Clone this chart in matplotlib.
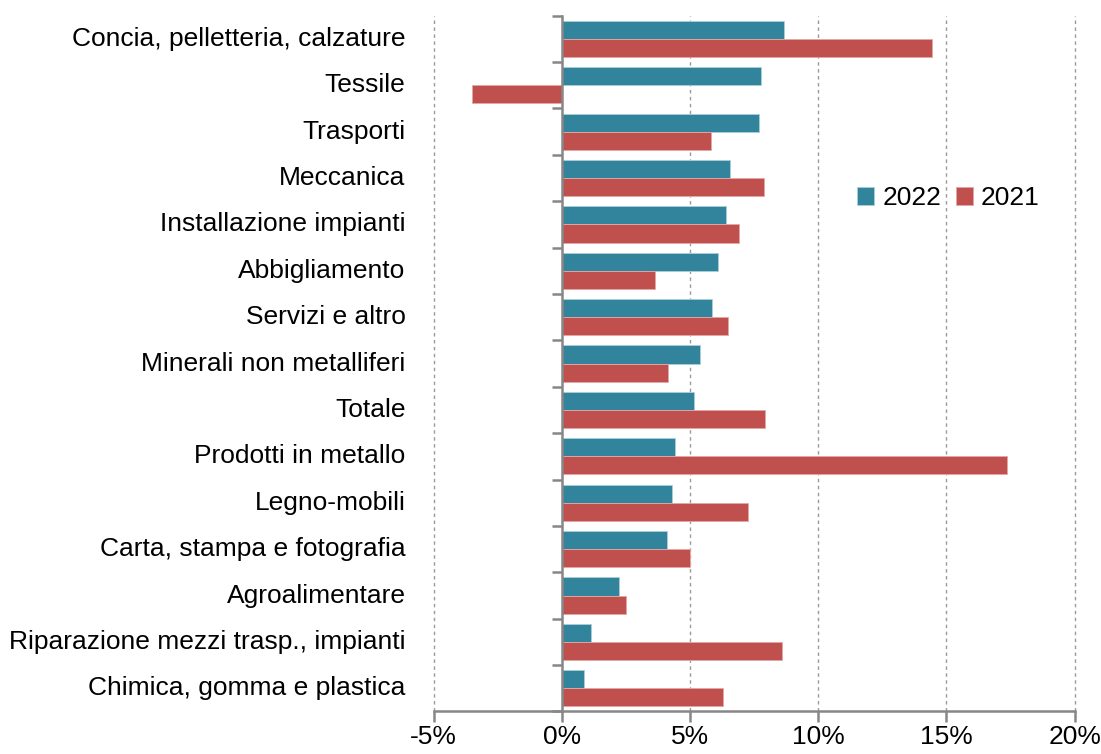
import matplotlib
matplotlib.use("Agg")
import matplotlib.pyplot as plt
import matplotlib.transforms as mtransforms
import numpy as np

settori = [
    "Concia, pelletteria, calzature",
    "Tessile",
    "Trasporti",
    "Meccanica",
    "Installazione impianti",
    "Abbigliamento",
    "Servizi e altro",
    "Minerali non metalliferi",
    "Totale",
    "Prodotti in metallo",
    "Legno-mobili",
    "Carta, stampa e fotografia",
    "Agroalimentare",
    "Riparazione mezzi trasp., impianti",
    "Chimica, gomma e plastica",
]
var_2022 = [8.65, 7.75, 7.67, 6.55, 6.41, 6.08, 5.87, 5.39, 5.17, 4.42, 4.28, 4.10, 2.24, 1.12, 0.87]
var_2021 = [14.43, -3.5, 5.80, 7.88, 6.89, 3.62, 6.47, 4.13, 7.93, 17.38, 7.27, 4.98, 2.48, 8.58, 6.28]

plt.rcParams["font.family"] = ["Liberation Sans Narrow", "Liberation Sans", "DejaVu Sans"]
FS = 19
GRIGIO = "#878787"

fig = plt.figure(figsize=(11.01, 7.54), dpi=100)
ax = fig.add_axes([0.394, 0.0564, 0.582, 0.9228])

n = len(settori)
y = np.arange(n)[::-1].astype(float)
h = 0.39
ax.barh(y + h / 2, var_2022, height=h, color="#31849B", edgecolor="#a9cfd9", linewidth=0.6, label="2022", zorder=3)
ax.barh(y - h / 2, var_2021, height=h, color="#C0504D", edgecolor="#e3a8a6", linewidth=0.6, label="2021", zorder=3)

ax.set_xlim(-5, 20)
ax.set_ylim(-0.5, n - 0.5)
ax.set_xticks([-5, 0, 5, 10, 15, 20])
ax.set_xticklabels([f"{v}%" for v in [-5, 0, 5, 10, 15, 20]], fontsize=FS)
for v in [-5, 5, 10, 15, 20]:
    ax.axvline(v, color="#9a9a9a", linestyle=(0, (2.5, 2.5)), linewidth=1.0, zorder=1, clip_on=False)

# asse verticale sullo zero con tacche tra le categorie
ax.spines["left"].set_position(("data", 0))
ax.set_yticks(np.arange(-0.5, n, 1.0))
ax.set_yticklabels([])
ax.tick_params(axis="y", direction="out", length=7, width=1.8, color=GRIGIO)
ax.tick_params(axis="x", direction="out", length=8, width=1.8, color=GRIGIO, pad=2)
for s in ["top", "right"]:
    ax.spines[s].set_visible(False)
for s in ["left", "bottom"]:
    ax.spines[s].set_color(GRIGIO)
    ax.spines[s].set_linewidth(1.8)
    ax.spines[s].set_zorder(4)

trans = mtransforms.blended_transform_factory(ax.transAxes, ax.transData)
for yi, nome in zip(y, settori):
    ax.text(-0.044, yi, nome, transform=trans, ha="right", va="center", fontsize=FS)

ax.legend(loc="center", bbox_to_anchor=(0.803, 0.738), ncol=2, frameon=False, fontsize=FS,
          handlelength=0.65, handleheight=0.65, handletextpad=0.3, columnspacing=0.55)

fig.savefig("out.png", dpi=100)
